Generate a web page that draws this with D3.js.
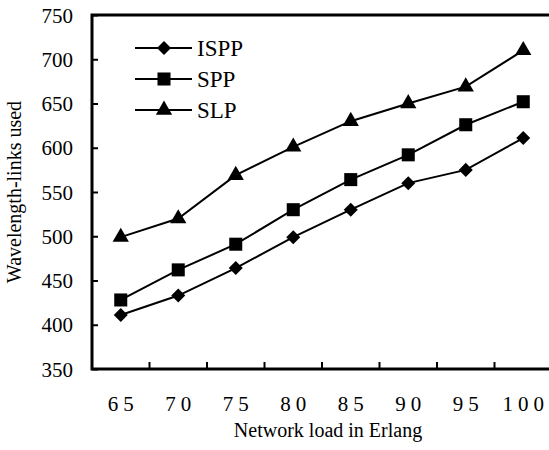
<!DOCTYPE html>
<html>
<head>
<meta charset="utf-8">
<script src="https://cdn.jsdelivr.net/npm/d3@7"></script>
<style>
    body { margin: 0; background: #fff; }
    svg text { font-family: "Liberation Serif", "Times New Roman", serif; fill: #000; }
</style>
</head>
<body>
<div id="chart"></div>
<script>
// network load (Erlang)
const loads = [65, 70, 75, 80, 85, 90, 95, 100];
const ispp = [411, 433, 464, 499, 530, 560, 575, 611];
const spp = [428, 462, 491, 530, 564, 592, 626, 652];
const slp = [499, 520, 569, 601, 630, 650, 669, 710];
const yTicks = [350, 400, 450, 500, 550, 600, 650, 700, 750];

const series = [
    {name: "ISPP", values: ispp, symbol: d3.symbolDiamond2, size: 125},
    {name: "SPP", values: spp, symbol: d3.symbolSquare, size: 170},
    {name: "SLP", values: slp, symbol: d3.symbolTriangle, size: 115}
];

const W = 549, H = 450;
const margin = {top: 15, left: 92};
const plotW = 460, plotH = 354;
const serif = "'Liberation Serif', 'Times New Roman', serif";

const svg = d3.select("#chart").append("svg")
    .attr("width", W)
    .attr("height", H);

const g = svg.append("g")
    .attr("transform", `translate(${margin.left},${margin.top})`);

// scales
const x = d3.scaleBand().domain(loads).range([0, plotW]).padding(0);
const y = d3.scaleLinear().domain([350, 750]).range([plotH, 0]);

// y axis - ticks point inwards
const yAxis = g.append("g")
    .call(d3.axisLeft(y).tickValues(yTicks).tickSizeInner(-6).tickSizeOuter(0).tickPadding(19))
    .attr("font-family", serif);
yAxis.select(".domain").remove();
yAxis.selectAll("line").attr("stroke", "#000").attr("stroke-width", 2);
yAxis.selectAll("text")
    .style("font-size", "21px")
    .attr("dy", "0.34em");

// x axis labels (centred in bands)
const xAxis = g.append("g")
    .attr("transform", `translate(0,${plotH})`)
    .call(d3.axisBottom(x).tickSize(0).tickPadding(27))
    .attr("font-family", serif);
xAxis.select(".domain").remove();
xAxis.selectAll("text")
    .style("font-size", "21px")
    .style("letter-spacing", "5px")
    .attr("dx", "2.5px");

// x tick marks between categories, pointing up
g.append("g").selectAll("line")
    .data(loads.slice(1))
    .join("line")
    .attr("x1", d => x(d))
    .attr("x2", d => x(d))
    .attr("y1", plotH)
    .attr("y2", plotH - 7)
    .attr("stroke", "#000")
    .attr("stroke-width", 2);

// frame
g.append("rect")
    .attr("width", plotW)
    .attr("height", plotH)
    .attr("fill", "none")
    .attr("stroke", "#000")
    .attr("stroke-width", 3);

// lines + markers
const line = d3.line()
    .x((d, i) => x(loads[i]) + x.bandwidth() / 2)
    .y(d => y(d));

series.forEach(s => {
    g.append("path")
        .datum(s.values)
        .attr("d", line)
        .attr("fill", "none")
        .attr("stroke", "#000")
        .attr("stroke-width", 2);

    g.selectAll(".pt-" + s.name)
        .data(s.values)
        .join("path")
        .attr("class", "pt-" + s.name)
        .attr("d", d3.symbol().type(s.symbol).size(s.size))
        .attr("transform", (d, i) => `translate(${x(loads[i]) + x.bandwidth() / 2},${y(d)})`)
        .attr("fill", "#000");
});

// legend
const legend = svg.append("g").attr("transform", "translate(135,48)");
series.forEach((s, i) => {
    const row = legend.append("g").attr("transform", `translate(0,${i * 31})`);
    row.append("line")
        .attr("x1", 0).attr("x2", 57)
        .attr("stroke", "#000").attr("stroke-width", 2);
    row.append("path")
        .attr("d", d3.symbol().type(s.symbol).size(s.size))
        .attr("transform", "translate(29,0)")
        .attr("fill", "#000");
    row.append("text")
        .attr("x", 62)
        .attr("dy", "0.35em")
        .attr("font-family", serif)
        .style("font-size", "23px")
        .text(s.name);
});

// axis titles
svg.append("text")
    .attr("x", 328)
    .attr("y", 437)
    .attr("text-anchor", "middle")
    .attr("font-family", serif)
    .style("font-size", "20px")
    .text("Network load in Erlang");

svg.append("text")
    .attr("transform", "translate(21,192) rotate(-90)")
    .attr("text-anchor", "middle")
    .attr("font-family", serif)
    .style("font-size", "20px")
    .text("Wavelength-links used");
</script>
</body>
</html>
